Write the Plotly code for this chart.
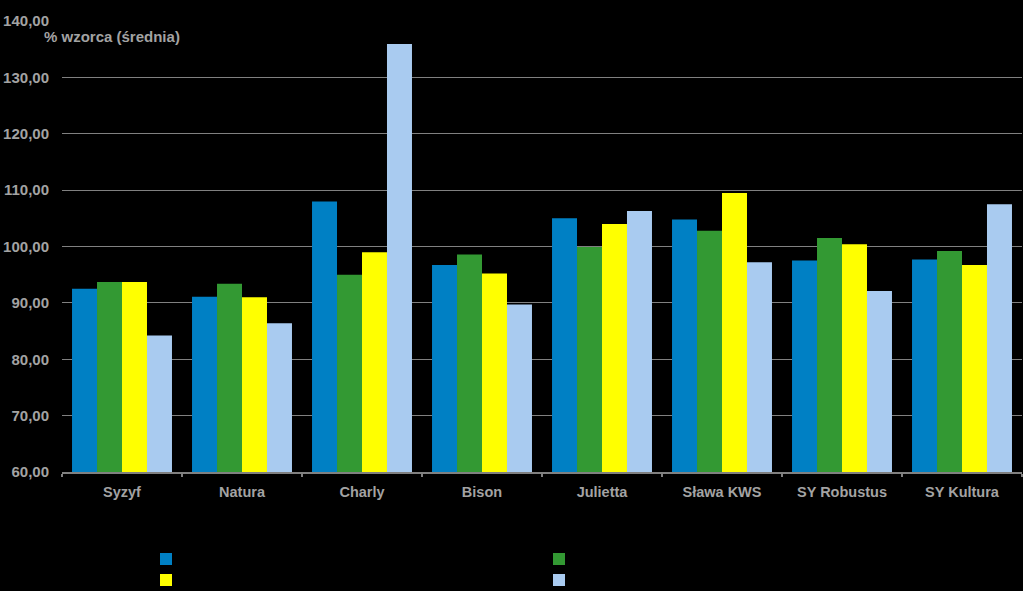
import plotly.graph_objects as go

categories = ["Syzyf", "Natura", "Charly", "Bison", "Julietta", "Sława KWS", "SY Robustus", "SY Kultura"]
series_1 = [92.5, 91.1, 108.0, 96.7, 105.0, 104.8, 97.5, 97.7]
series_2 = [93.7, 93.4, 95.0, 98.6, 99.9, 102.8, 101.5, 99.2]
series_3 = [93.7, 91.0, 99.0, 95.2, 104.0, 109.5, 100.4, 96.7]
series_4 = [84.2, 86.4, 135.9, 89.7, 106.3, 97.2, 92.1, 107.5]
y_ticks = [60, 70, 80, 90, 100, 110, 120, 130, 140]
y_tick_labels = ["60,00", "70,00", "80,00", "90,00", "100,00", "110,00", "120,00", "130,00", "140,00"]
y_title = "% wzorca (średnia)"

colors = ["#0080C4", "#339933", "#FFFF00", "#A9CBF0"]
series = [series_1, series_2, series_3, series_4]
legends = ["legend", "legend", "legend2", "legend2"]

fig = go.Figure()
for vals, col, lg in zip(series, colors, legends):
    fig.add_trace(go.Bar(x=categories, y=vals, name="", marker=dict(color=col, line=dict(width=0)),
                         legend=lg))

font_fam = "Liberation Sans, Arial, sans-serif"
tick_col = "#a3a3a3"

fig.update_layout(
    width=1023, height=591,
    margin=dict(l=62, r=1, t=21, b=119, autoexpand=False),
    paper_bgcolor="#000000", plot_bgcolor="#000000",
    barmode="group", bargap=0.167, bargroupgap=0,
    font=dict(family=font_fam, color=tick_col, size=13),
    xaxis=dict(showgrid=False, showline=True, linecolor="#808080", linewidth=2,
               ticks="outside", tickcolor="#808080", ticklen=3, tickwidth=2,
               tickson="boundaries", ticklabelstandoff=6,
               tickfont=dict(family=font_fam, size=14.5, color=tick_col, weight="bold")),
    yaxis=dict(range=[60, 140], tickvals=y_ticks, ticktext=y_tick_labels,
               showgrid=True, gridcolor="#808080", gridwidth=1, zeroline=False,
               showline=False, ticks="", ticklabelstandoff=12,
               tickfont=dict(family=font_fam, size=15, color=tick_col, weight="bold")),
    legend=dict(orientation="h", x=0.0875, y=0.054, yref="container", xanchor="left", yanchor="middle",
                entrywidth=348, entrywidthmode="pixels", bgcolor="rgba(0,0,0,0)",
                font=dict(color="#000000", size=11)),
    legend2=dict(orientation="h", x=0.0875, y=0.0186, yref="container", xanchor="left", yanchor="middle",
                 entrywidth=348, entrywidthmode="pixels", bgcolor="rgba(0,0,0,0)",
                 font=dict(color="#000000", size=11)),
    annotations=[dict(text=y_title, xref="paper", yref="paper", x=-0.021, y=0.966,
                      xanchor="left", yanchor="middle", showarrow=False,
                      font=dict(family=font_fam, size=15, color=tick_col, weight="bold"))],
)

fig.write_html("out.html", config={"displayModeBar": False},
               post_script="document.body.style.margin='0';document.body.style.background='#000';")
